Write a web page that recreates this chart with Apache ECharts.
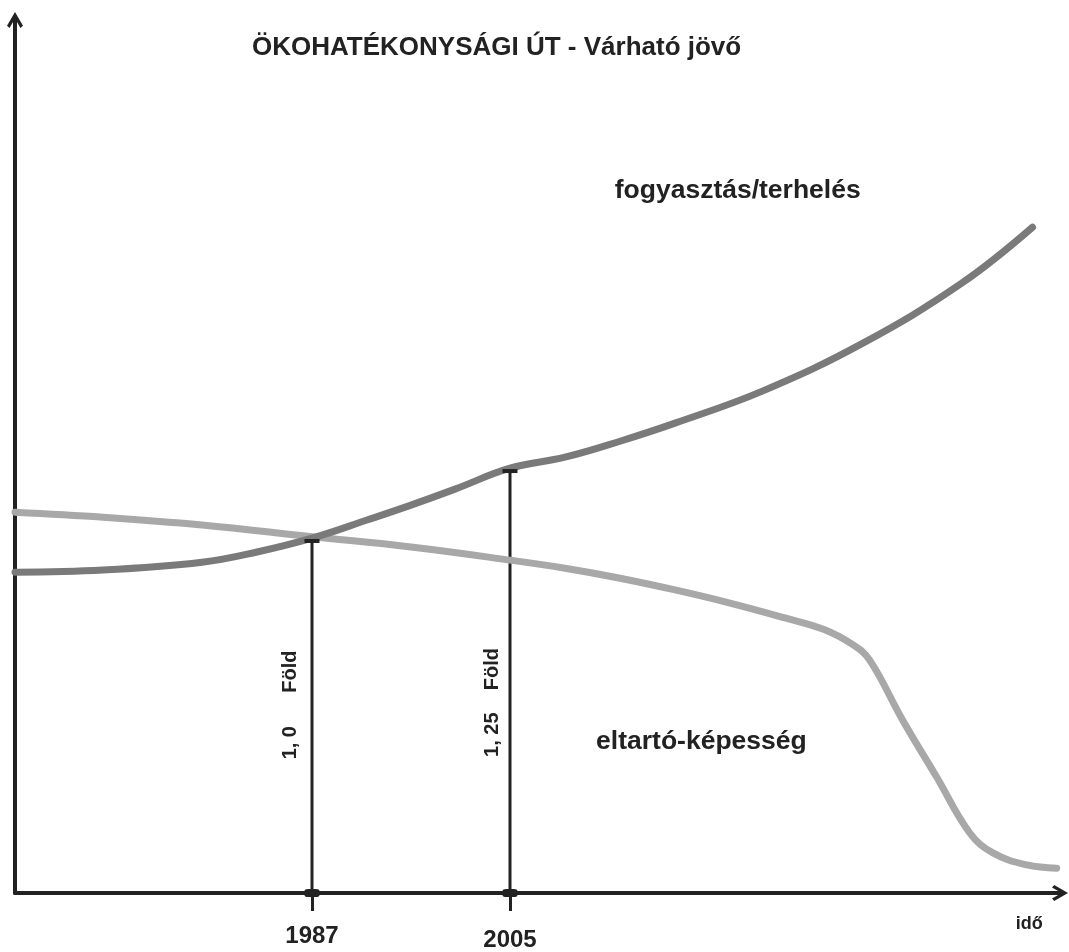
<!DOCTYPE html>
<html>
<head>
<meta charset="utf-8">
<script src="https://cdn.jsdelivr.net/npm/echarts@6/dist/echarts.min.js"></script>
<style>
  html, body { margin: 0; padding: 0; background: #fff; }
  #chart { width: 1069px; height: 952px; }
</style>
</head>
<body>
<div id="chart"></div>
<script>
// years on the x axis, index value on the y axis (1987 consumption = 100)
var consumptionYears = [1960, 1968, 1977, 1982, 1987, 1992, 1996, 2000, 2005, 2010, 2015, 2020, 2028, 2037, 2046, 2052.5];
var consumptionValues = [90.4, 91.0, 93.2, 96.1, 100, 105.1, 109.3, 113.8, 119.7, 122.8, 127.3, 132.4, 141.5, 154.8, 171.7, 187.6];

var capacityYears = [1960, 1968, 1977, 1987, 1996, 2005, 2010, 2015, 2020, 2025, 2030, 2033.5, 2036.2, 2037.7, 2040.7, 2043.8, 2046.8, 2048.9, 2052, 2054.7];
var capacityValues = [107.3, 105.9, 103.7, 100.4, 97.5, 93.8, 91.5, 88.7, 85.4, 81.7, 77.5, 74.3, 69.9, 65.6, 48.7, 32.6, 16.9, 11.3, 7.9, 7.0];

var markerYears = [1987, 2005];
var markerValues = [99.2, 118.9];
var markerLabels = ['1, 0      Föld', '1, 25    Föld'];
var markerLabelPos = [[1985, 53], [2003.4, 53.7]];

var textFont = '"Liberation Sans", Arial, sans-serif';
var ink = '#222';

var chevron = 'path://M5,0 L10,8.6 L8.4,10 L5,4 L1.6,10 L0,8.6 Z';

function toPairs(xs, ys) {
  return xs.map(function (x, i) { return [x, ys[i]]; });
}

var chartDom = document.getElementById('chart');
var myChart = echarts.init(chartDom);
var option;

var dropLines = markerYears.map(function (yr, i) {
  return {
    type: 'line',
    data: [[yr, 0], [yr, markerValues[i]]],
    symbol: 'none',
    silent: true,
    z: 3,
    lineStyle: { color: ink, width: 3 }
  };
});

option = {
  animation: false,
  backgroundColor: '#fff',
  title: {
    text: 'ÖKOHATÉKONYSÁGI ÚT - Várható jövő',
    left: 247,
    top: 30,
    textStyle: { fontFamily: textFont, fontWeight: 'bold', fontSize: 26, color: ink }
  },
  grid: { left: 15, right: 9, top: 20, bottom: 59 },
  xAxis: {
    type: 'value',
    min: 1960,
    max: 2055,
    splitLine: { show: false },
    axisLine: {
      lineStyle: { color: ink, width: 4 },
      symbol: ['none', chevron],
      symbolSize: [22, 16],
      symbolOffset: [0, 0]
    },
    axisTick: {
      show: true,
      customValues: markerYears,
      length: 18,
      lineStyle: { color: ink, width: 3 }
    },
    axisLabel: {
      customValues: markerYears,
      margin: 31,
      formatter: function (v) { return v === 2005 ? '{b|' + v + '}' : '{a|' + v + '}'; },
      rich: {
        a: { fontFamily: textFont, fontWeight: 'bold', fontSize: 24, color: ink },
        b: { fontFamily: textFont, fontWeight: 'bold', fontSize: 24, color: ink, padding: [4, 0, 0, 0] }
      }
    }
  },
  yAxis: {
    type: 'value',
    min: 0,
    max: 246,
    splitLine: { show: false },
    axisTick: { show: false },
    axisLabel: { show: false },
    axisLine: {
      lineStyle: { color: ink, width: 4 },
      symbol: ['none', chevron],
      symbolSize: [22, 16],
      symbolOffset: [0, 0]
    }
  },
  series: [
    {
      name: 'eltartó-képesség',
      type: 'line',
      data: toPairs(capacityYears, capacityValues),
      smooth: 0.4,
      symbol: 'none',
      z: 4,
      lineStyle: { color: '#a8a8a8', width: 7, cap: 'round' }
    },
    {
      name: 'fogyasztás/terhelés',
      type: 'line',
      data: toPairs(consumptionYears, consumptionValues),
      smooth: 0.4,
      symbol: 'none',
      z: 5,
      lineStyle: { color: '#7a7a7a', width: 7, cap: 'round' }
    }
  ].concat(dropLines).concat([
    {
      // caps on top of the drop lines
      type: 'scatter',
      symbol: 'rect',
      symbolSize: [15, 4],
      silent: true,
      z: 6,
      itemStyle: { color: ink, opacity: 1 },
      data: toPairs(markerYears, markerValues)
    },
    {
      // small feet where the drop lines meet the axis
      type: 'scatter',
      symbol: 'roundRect',
      symbolSize: [15, 8],
      silent: true,
      z: 6,
      itemStyle: { color: ink, opacity: 1 },
      data: markerYears.map(function (yr) { return [yr, 0]; })
    },
    {
      // rotated "Föld" labels
      type: 'scatter',
      symbolSize: 0,
      silent: true,
      clip: false,
      itemStyle: { opacity: 1 },
      label: {
        show: true,
        position: 'inside',
        rotate: 90,
        formatter: function (p) { return markerLabels[p.dataIndex]; },
        fontFamily: textFont,
        fontWeight: 'bold',
        fontSize: 20,
        color: ink
      },
      data: markerLabelPos
    },
    {
      // curve names and axis name
      type: 'scatter',
      symbolSize: 0,
      silent: true,
      clip: false,
      itemStyle: { opacity: 1 },
      label: {
        show: true,
        position: 'inside',
        formatter: function (p) { return p.name; },
        fontFamily: textFont,
        fontWeight: 'bold',
        color: ink
      },
      data: [
        { name: 'fogyasztás/terhelés', value: [2025.7, 198], label: { fontSize: 26.5 } },
        { name: 'eltartó-képesség', value: [2022.4, 42.5], label: { fontSize: 26.5 } },
        { name: 'idő', value: [2052.2, -8.7], label: { fontSize: 18 } }
      ]
    }
  ])
};

option && myChart.setOption(option);
</script>
</body>
</html>
